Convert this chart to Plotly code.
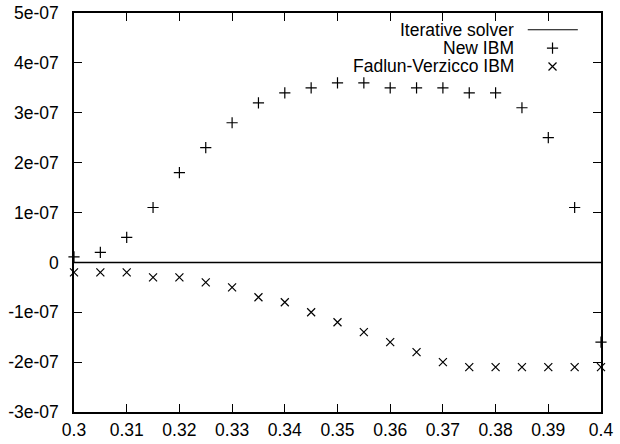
import plotly.graph_objects as go

x_vals = [0.3, 0.305, 0.31, 0.315, 0.32, 0.325, 0.33, 0.335, 0.34, 0.345, 0.35,
          0.355, 0.36, 0.365, 0.37, 0.375, 0.38, 0.385, 0.39, 0.395, 0.4]
new_ibm = [1.1e-08, 2e-08, 5e-08, 1.1e-07, 1.8e-07, 2.3e-07, 2.8e-07, 3.2e-07, 3.4e-07, 3.5e-07, 3.6e-07,
           3.6e-07, 3.5e-07, 3.5e-07, 3.5e-07, 3.4e-07, 3.4e-07, 3.1e-07, 2.5e-07, 1.1e-07, -1.6e-07]
fadlun_ibm = [-2e-08, -2e-08, -2e-08, -3e-08, -3e-08, -4e-08, -5e-08, -7e-08, -8e-08, -1e-07, -1.2e-07,
              -1.4e-07, -1.6e-07, -1.8e-07, -2e-07, -2.1e-07, -2.1e-07, -2.1e-07, -2.1e-07, -2.1e-07, -2.1e-07]
iterative = [0.0] * len(x_vals)

x_ticks = [0.3, 0.31, 0.32, 0.33, 0.34, 0.35, 0.36, 0.37, 0.38, 0.39, 0.4]
x_ticklabels = ["0.3", "0.31", "0.32", "0.33", "0.34", "0.35", "0.36", "0.37", "0.38", "0.39", "0.4"]
y_ticks = [-3e-07, -2e-07, -1e-07, 0, 1e-07, 2e-07, 3e-07, 4e-07, 5e-07]
y_ticklabels = ["-3e-07", "-2e-07", "-1e-07", "0", "1e-07", "2e-07", "3e-07", "4e-07", "5e-07"]
legend_names = ["Iterative solver", "New IBM", "Fadlun-Verzicco IBM"]

FONT = "Liberation Sans, Arial, sans-serif"
FS = 17.5

fig = go.Figure()
fig.add_trace(go.Scatter(x=x_vals, y=iterative, mode="lines",
                         line=dict(color="black", width=1.5), cliponaxis=False))
fig.add_trace(go.Scatter(x=x_vals, y=new_ibm, mode="markers", cliponaxis=False,
                         marker=dict(symbol="cross-thin", size=8, color="black",
                                     line=dict(color="black", width=1.2))))
fig.add_trace(go.Scatter(x=x_vals, y=fadlun_ibm, mode="markers", cliponaxis=False,
                         marker=dict(symbol="x-thin", size=8, color="black",
                                     line=dict(color="black", width=1.2))))

# legend (gnuplot style: right-aligned text, sample on right)
rows_y = [0.958, 0.912, 0.866]
for name, yy in zip(legend_names, rows_y):
    fig.add_annotation(xref="paper", yref="paper", x=0.837, y=yy, text=name,
                       showarrow=False, xanchor="right", yanchor="middle",
                       height=16, valign="middle", borderpad=0,
                       font=dict(family=FONT, size=FS, color="black"))
fig.add_trace(go.Scatter(x=[0.861, 0.956], y=[rows_y[0], rows_y[0]], mode="lines",
                         xaxis="x2", yaxis="y2", line=dict(color="black", width=1.2)))
fig.add_trace(go.Scatter(x=[0.908], y=[rows_y[1]], mode="markers", xaxis="x2", yaxis="y2",
                         marker=dict(symbol="cross-thin", size=8, color="black",
                                     line=dict(color="black", width=1.2))))
fig.add_trace(go.Scatter(x=[0.908], y=[rows_y[2]], mode="markers", xaxis="x2", yaxis="y2",
                         marker=dict(symbol="x-thin", size=8, color="black",
                                     line=dict(color="black", width=1.2))))

axis_common = dict(showline=True, linecolor="black", linewidth=1.5, mirror="allticks",
                   ticks="inside", ticklen=8, tickwidth=1, tickcolor="black",
                   showgrid=False, zeroline=False, automargin=False,
                   tickfont=dict(family=FONT, size=FS, color="black"))

fig.update_layout(
    width=620, height=444,
    margin=dict(l=74, r=19, t=13, b=32),
    paper_bgcolor="white", plot_bgcolor="white",
    showlegend=False,
    xaxis=dict(range=[0.3, 0.4], tickvals=x_ticks, ticktext=x_ticklabels,
               ticklabelstandoff=1, **axis_common),
    yaxis=dict(range=[-3e-07, 5e-07], tickvals=y_ticks, ticktext=y_ticklabels,
               ticklabelstandoff=10, **axis_common),
    xaxis2=dict(range=[0, 1], overlaying="x", visible=False, fixedrange=True),
    yaxis2=dict(range=[0, 1], overlaying="y", visible=False, fixedrange=True),
)

fig.write_html("out.html")
